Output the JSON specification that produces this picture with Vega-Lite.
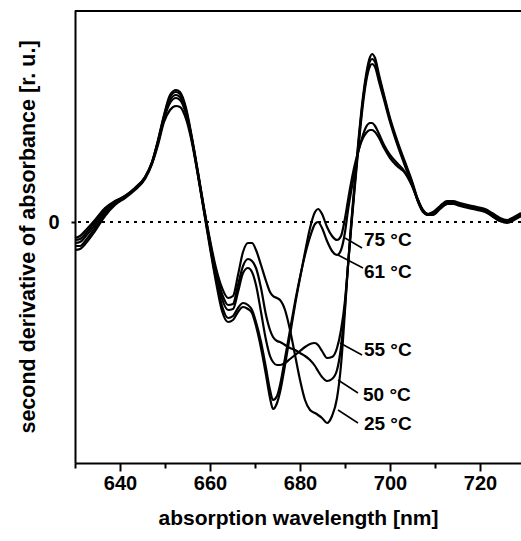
{
  "$schema": "https://vega.github.io/schema/vega-lite/v6.json",
  "width": 446,
  "height": 453,
  "autosize": {"type": "none"},
  "padding": {"left": 75, "top": 10, "right": 0, "bottom": 78},
  "background": "white",
  "view": {"stroke": null},
  "config": {
    "font": "Liberation Sans",
    "axis": {"grid": false, "domainColor": "black", "domainWidth": 2, "tickColor": "black", "tickWidth": 2, "labelColor": "black", "titleColor": "black", "labelFont": "Liberation Sans", "titleFont": "Liberation Sans", "labelFontWeight": "bold", "titleFontWeight": "bold", "labelFontSize": 20, "titleFontSize": 21}
  },
  "datasets": {
    "spectra": [
      {"x": 630.00, "25 °C": -16, "50 °C": -18, "55 °C": -21, "61 °C": -24, "75 °C": -28},
      {"x": 631.11, "25 °C": -14, "50 °C": -17, "55 °C": -20, "61 °C": -24, "75 °C": -27},
      {"x": 632.44, "25 °C": -8, "50 °C": -11, "55 °C": -14, "61 °C": -18, "75 °C": -21},
      {"x": 634.44, "25 °C": 2, "50 °C": 0, "55 °C": -3, "61 °C": -6, "75 °C": -9},
      {"x": 636.67, "25 °C": 14, "50 °C": 12, "55 °C": 10, "61 °C": 8, "75 °C": 6},
      {"x": 638.89, "25 °C": 21, "50 °C": 20, "55 °C": 19, "61 °C": 18, "75 °C": 17},
      {"x": 641.11, "25 °C": 26, "50 °C": 26, "55 °C": 25, "61 °C": 25, "75 °C": 24},
      {"x": 643.33, "25 °C": 34, "50 °C": 34, "55 °C": 33, "61 °C": 33, "75 °C": 32},
      {"x": 645.56, "25 °C": 45, "50 °C": 45, "55 °C": 44, "61 °C": 44, "75 °C": 43},
      {"x": 647.11, "25 °C": 60, "50 °C": 60, "55 °C": 59, "61 °C": 59, "75 °C": 58},
      {"x": 648.44, "25 °C": 82, "50 °C": 81, "55 °C": 80, "61 °C": 79, "75 °C": 77},
      {"x": 649.78, "25 °C": 107, "50 °C": 106, "55 °C": 104, "61 °C": 103, "75 °C": 100},
      {"x": 651.11, "25 °C": 127, "50 °C": 125, "55 °C": 122, "61 °C": 119, "75 °C": 112},
      {"x": 652.44, "25 °C": 132, "50 °C": 130, "55 °C": 127, "61 °C": 124, "75 °C": 116},
      {"x": 653.33, "25 °C": 130, "50 °C": 128, "55 °C": 125, "61 °C": 122, "75 °C": 115},
      {"x": 654.67, "25 °C": 114, "50 °C": 112, "55 °C": 110, "61 °C": 108, "75 °C": 103},
      {"x": 656.00, "25 °C": 84, "50 °C": 83, "55 °C": 82, "61 °C": 81, "75 °C": 79},
      {"x": 657.33, "25 °C": 50, "50 °C": 49, "55 °C": 48, "61 °C": 47, "75 °C": 46},
      {"x": 658.67, "25 °C": 14, "50 °C": 13, "55 °C": 12, "61 °C": 11, "75 °C": 10},
      {"x": 660.00, "25 °C": -18, "50 °C": -20, "55 °C": -22, "61 °C": -24, "75 °C": -26},
      {"x": 661.33, "25 °C": -46, "50 °C": -50, "55 °C": -53, "61 °C": -57, "75 °C": -60},
      {"x": 662.67, "25 °C": -66, "50 °C": -72, "55 °C": -77, "61 °C": -84, "75 °C": -89},
      {"x": 664.00, "25 °C": -76, "50 °C": -83, "55 °C": -88, "61 °C": -96, "75 °C": -100},
      {"x": 665.11, "25 °C": -74, "50 °C": -82, "55 °C": -87, "61 °C": -94, "75 °C": -98},
      {"x": 666.22, "25 °C": -53, "50 °C": -63, "55 °C": -70, "61 °C": -86, "75 °C": -90},
      {"x": 667.33, "25 °C": -30, "50 °C": -44, "55 °C": -51, "61 °C": -81, "75 °C": -85},
      {"x": 668.44, "25 °C": -21, "50 °C": -37, "55 °C": -46, "61 °C": -83, "75 °C": -87},
      {"x": 669.33, "25 °C": -21, "50 °C": -39, "55 °C": -50, "61 °C": -88, "75 °C": -91},
      {"x": 670.22, "25 °C": -28, "50 °C": -46, "55 °C": -63, "61 °C": -100, "75 °C": -104},
      {"x": 671.33, "25 °C": -43, "50 °C": -66, "55 °C": -90, "61 °C": -120, "75 °C": -126},
      {"x": 672.44, "25 °C": -59, "50 °C": -93, "55 °C": -118, "61 °C": -146, "75 °C": -153},
      {"x": 673.33, "25 °C": -70, "50 °C": -108, "55 °C": -134, "61 °C": -168, "75 °C": -176},
      {"x": 674.00, "25 °C": -74, "50 °C": -115, "55 °C": -140, "61 °C": -178, "75 °C": -187},
      {"x": 674.89, "25 °C": -76, "50 °C": -119, "55 °C": -143, "61 °C": -174, "75 °C": -181},
      {"x": 675.56, "25 °C": -78, "50 °C": -120, "55 °C": -143, "61 °C": -163, "75 °C": -170},
      {"x": 676.67, "25 °C": -88, "50 °C": -123, "55 °C": -141, "61 °C": -136, "75 °C": -143},
      {"x": 677.78, "25 °C": -108, "50 °C": -126, "55 °C": -137, "61 °C": -108, "75 °C": -113},
      {"x": 678.89, "25 °C": -133, "50 °C": -128, "55 °C": -133, "61 °C": -80, "75 °C": -83},
      {"x": 680.00, "25 °C": -158, "50 °C": -131, "55 °C": -129, "61 °C": -55, "75 °C": -56},
      {"x": 681.11, "25 °C": -178, "50 °C": -134, "55 °C": -125, "61 °C": -33, "75 °C": -30},
      {"x": 682.22, "25 °C": -188, "50 °C": -138, "55 °C": -122, "61 °C": -15, "75 °C": -6},
      {"x": 683.33, "25 °C": -191, "50 °C": -144, "55 °C": -121, "61 °C": -2, "75 °C": 10},
      {"x": 684.00, "25 °C": -193, "50 °C": -149, "55 °C": -123, "61 °C": 0, "75 °C": 13},
      {"x": 684.89, "25 °C": -196, "50 °C": -155, "55 °C": -129, "61 °C": -6, "75 °C": 8},
      {"x": 686.00, "25 °C": -201, "50 °C": -159, "55 °C": -136, "61 °C": -19, "75 °C": -5},
      {"x": 687.11, "25 °C": -194, "50 °C": -157, "55 °C": -135, "61 °C": -29, "75 °C": -14},
      {"x": 688.22, "25 °C": -176, "50 °C": -148, "55 °C": -126, "61 °C": -33, "75 °C": -18},
      {"x": 689.11, "25 °C": -143, "50 °C": -125, "55 °C": -108, "61 °C": -28, "75 °C": -14},
      {"x": 690.00, "25 °C": -88, "50 °C": -83, "55 °C": -78, "61 °C": -10, "75 °C": 4},
      {"x": 690.67, "25 °C": -43, "50 °C": -43, "55 °C": -43, "61 °C": 12, "75 °C": 22},
      {"x": 691.33, "25 °C": -3, "50 °C": -6, "55 °C": -8, "61 °C": 30, "75 °C": 39},
      {"x": 692.00, "25 °C": 32, "50 °C": 29, "55 °C": 26, "61 °C": 47, "75 °C": 54},
      {"x": 692.89, "25 °C": 77, "50 °C": 74, "55 °C": 70, "61 °C": 69, "75 °C": 70},
      {"x": 693.78, "25 °C": 117, "50 °C": 114, "55 °C": 110, "61 °C": 84, "75 °C": 82},
      {"x": 694.67, "25 °C": 147, "50 °C": 144, "55 °C": 140, "61 °C": 95, "75 °C": 89},
      {"x": 695.56, "25 °C": 165, "50 °C": 161, "55 °C": 156, "61 °C": 99, "75 °C": 92},
      {"x": 696.00, "25 °C": 168, "50 °C": 163, "55 °C": 158, "61 °C": 99, "75 °C": 92},
      {"x": 696.67, "25 °C": 164, "50 °C": 160, "55 °C": 155, "61 °C": 96, "75 °C": 90},
      {"x": 697.56, "25 °C": 147, "50 °C": 144, "55 °C": 140, "61 °C": 88, "75 °C": 84},
      {"x": 698.67, "25 °C": 127, "50 °C": 125, "55 °C": 122, "61 °C": 77, "75 °C": 74},
      {"x": 700.00, "25 °C": 104, "50 °C": 102, "55 °C": 100, "61 °C": 67, "75 °C": 64},
      {"x": 701.56, "25 °C": 82, "50 °C": 80, "55 °C": 78, "61 °C": 59, "75 °C": 56},
      {"x": 703.33, "25 °C": 60, "50 °C": 58, "55 °C": 56, "61 °C": 50, "75 °C": 49},
      {"x": 704.89, "25 °C": 41, "50 °C": 39, "55 °C": 38, "61 °C": 37, "75 °C": 36},
      {"x": 706.22, "25 °C": 22, "50 °C": 21, "55 °C": 20, "61 °C": 22, "75 °C": 21},
      {"x": 707.33, "25 °C": 11, "50 °C": 11, "55 °C": 10, "61 °C": 12, "75 °C": 11},
      {"x": 708.44, "25 °C": 7, "50 °C": 7, "55 °C": 7, "61 °C": 8, "75 °C": 8},
      {"x": 709.56, "25 °C": 9, "50 °C": 8, "55 °C": 7, "61 °C": 10, "75 °C": 9},
      {"x": 711.11, "25 °C": 15, "50 °C": 14, "55 °C": 13, "61 °C": 16, "75 °C": 14},
      {"x": 712.67, "25 °C": 20, "50 °C": 19, "55 °C": 18, "61 °C": 21, "75 °C": 18},
      {"x": 714.00, "25 °C": 20, "50 °C": 19, "55 °C": 18, "61 °C": 21, "75 °C": 19},
      {"x": 715.56, "25 °C": 18, "50 °C": 17, "55 °C": 16, "61 °C": 19, "75 °C": 17},
      {"x": 717.33, "25 °C": 16, "50 °C": 15, "55 °C": 14, "61 °C": 17, "75 °C": 15},
      {"x": 719.33, "25 °C": 14, "50 °C": 13, "55 °C": 12, "61 °C": 15, "75 °C": 13},
      {"x": 721.11, "25 °C": 12, "50 °C": 11, "55 °C": 10, "61 °C": 13, "75 °C": 11},
      {"x": 722.67, "25 °C": 8, "50 °C": 7, "55 °C": 6, "61 °C": 9, "75 °C": 6},
      {"x": 724.44, "25 °C": 3, "50 °C": 2, "55 °C": 1, "61 °C": 4, "75 °C": 1},
      {"x": 726.00, "25 °C": 1, "50 °C": 0, "55 °C": -1, "61 °C": 2, "75 °C": 0},
      {"x": 727.56, "25 °C": 4, "50 °C": 3, "55 °C": 2, "61 °C": 5, "75 °C": 3},
      {"x": 729.11, "25 °C": 8, "50 °C": 7, "55 °C": 6, "61 °C": 9, "75 °C": 6}
    ],
    "labels": [
      {"label": "75 °C", "x": 694.2, "y": -18, "x1": 693.78, "y1": -26, "x2": 690.0, "y2": -16},
      {"label": "61 °C", "x": 694.2, "y": -50, "x1": 694.0, "y1": -46, "x2": 688.44, "y2": -33},
      {"label": "55 °C", "x": 694.2, "y": -128, "x1": 693.78, "y1": -133, "x2": 688.89, "y2": -121},
      {"label": "50 °C", "x": 694.0, "y": -173, "x1": 692.89, "y1": -171, "x2": 688.44, "y2": -158},
      {"label": "25 °C", "x": 694.2, "y": -202, "x1": 692.89, "y1": -201, "x2": 688.44, "y2": -188}
    ],
    "guides": [
      {"kind": "zero", "level": 0},
      {"kind": "border", "level": 211}
    ]
  },
  "layer": [
    {
      "data": {"name": "spectra"},
      "transform": [{"fold": ["25 °C", "50 °C", "55 °C", "61 °C", "75 °C"], "as": ["T", "v"]}],
      "mark": {"type": "line", "interpolate": "monotone", "color": "black", "strokeWidth": 2.2},
      "encoding": {
        "x": {
          "field": "x", "type": "quantitative",
          "scale": {"domain": [630, 729.1], "nice": false, "zero": false},
          "axis": {
            "title": "absorption wavelength [nm]",
            "values": [630, 640, 650, 660, 670, 680, 690, 700, 710, 720],
            "labelExpr": "datum.value % 20 === 0 ? datum.label : ''",
            "tickSize": {"condition": {"test": "datum.value % 20 === 0", "value": 8}, "value": 5},
            "labelPadding": 2,
            "titlePadding": 14,
            "labelFlush": false
          }
        },
        "y": {
          "field": "v", "type": "quantitative",
          "scale": {"domain": [-241, 212], "nice": false, "zero": false},
          "axis": {
            "title": "second derivative of absorbance [r. u.]",
            "values": [0],
            "tickSize": 4,
            "labelPadding": 12,
            "titlePadding": 8,
            "titleFontSize": 21.5
          }
        },
        "detail": {"field": "T"}
      }
    },
    {
      "data": {"name": "guides"},
      "mark": {"type": "rule", "color": "black", "strokeWidth": 2},
      "encoding": {
        "y": {"field": "level", "type": "quantitative"},
        "strokeDash": {"field": "kind", "type": "nominal", "scale": {"domain": ["zero", "border"], "range": [[3, 5], [1, 0]]}, "legend": null},
        "strokeWidth": {"field": "kind", "type": "nominal", "scale": {"domain": ["zero", "border"], "range": [2, 2.5]}, "legend": null}
      }
    },
    {
      "data": {"name": "labels"},
      "mark": {"type": "rule", "color": "black", "strokeWidth": 1.5},
      "encoding": {
        "x": {"field": "x1", "type": "quantitative"},
        "y": {"field": "y1", "type": "quantitative"},
        "x2": {"field": "x2"},
        "y2": {"field": "y2"}
      }
    },
    {
      "data": {"name": "labels"},
      "mark": {"type": "text", "align": "left", "baseline": "middle", "font": "Liberation Sans", "fontWeight": "bold", "fontSize": 19, "color": "black"},
      "encoding": {
        "x": {"field": "x", "type": "quantitative"},
        "y": {"field": "y", "type": "quantitative"},
        "text": {"field": "label"}
      }
    }
  ]
}
